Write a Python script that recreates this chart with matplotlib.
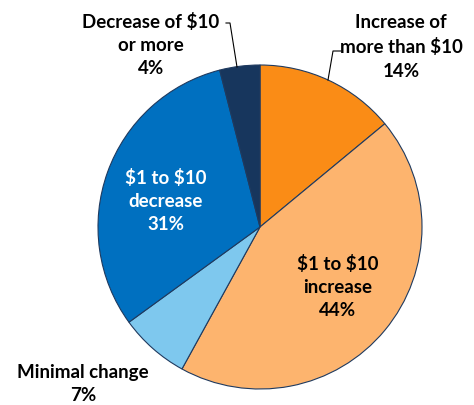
import matplotlib.pyplot as plt

categories = ['Increase of\nmore than $10', '$1 to $10\nincrease', 'Minimal change',
              '$1 to $10\ndecrease', 'Decrease of $10\nor more']
shares = [14, 44, 7, 31, 4]
colors = ['#FA8C16', '#FDB46E', '#7EC8EE', '#0070C0', '#17365D']

plt.rcParams['font.family'] = ['Lato', 'DejaVu Sans']
plt.rcParams['text.parse_math'] = False

fig = plt.figure(figsize=(4.74, 4.06), dpi=100)
ax = fig.add_axes([0, 0, 1, 1])

ax.pie(shares, colors=colors, startangle=90, counterclock=False,
       center=(260, 178), radius=162,
       wedgeprops=dict(edgecolor='#1F3A5F', linewidth=0.8))
ax.set_xlim(0, 474)
ax.set_ylim(0, 406)
ax.set_aspect('equal')
ax.axis('off')

# label positions (pixels, y from bottom) and colours
label_pos = [(401, 359), (338, 119), (83, 22), (166, 205), (151, 361)]
label_col = ['black', 'black', 'black', 'white', 'black']
for cat, val, (x, y), c in zip(categories, shares, label_pos, label_col):
    ax.text(x, y, f'{cat}\n{val}%', ha='center', va='center', fontsize=13.5,
            fontweight='bold', color=c, linespacing=1.45)

# leader lines
ax.plot([341, 333, 328], [354, 354, 325], color='black', lw=0.8)
ax.plot([226, 230, 237], [382, 382, 338], color='black', lw=0.8)

fig.savefig('out.png', dpi=100)
